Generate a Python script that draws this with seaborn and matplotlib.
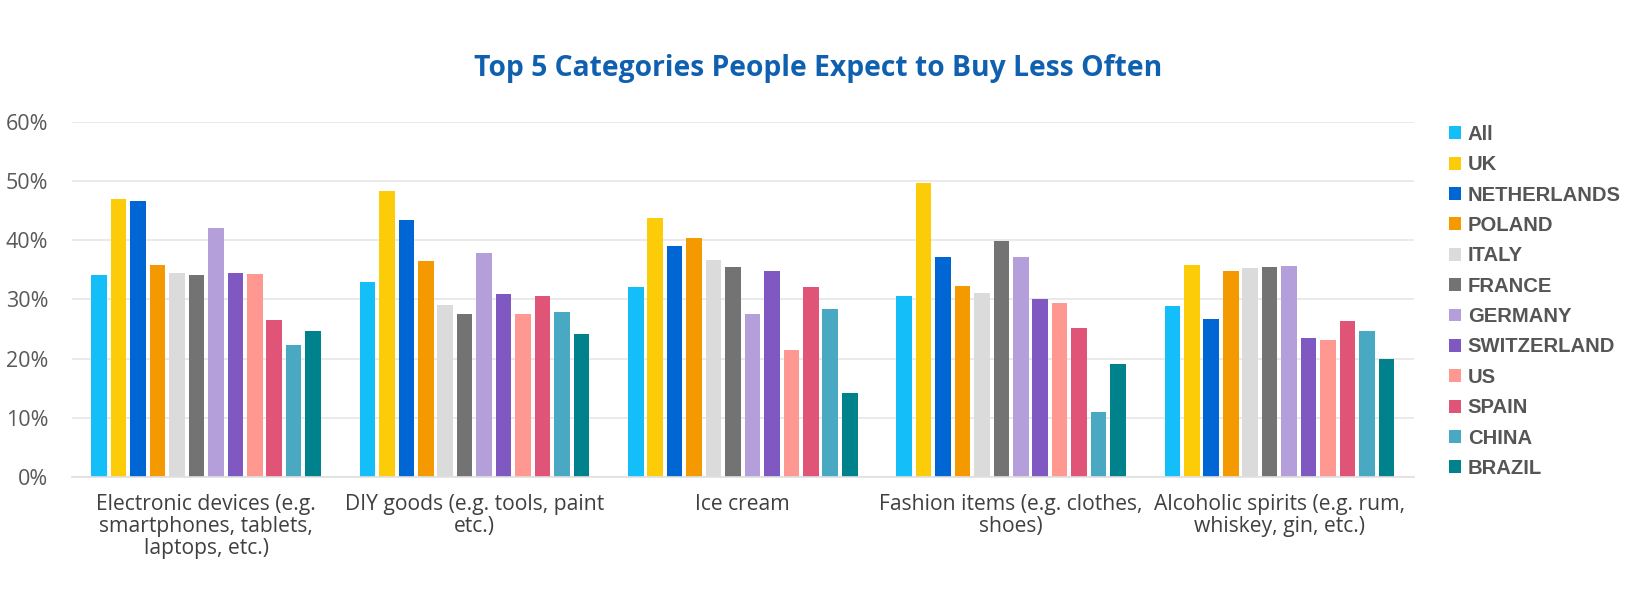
import pandas as pd
import matplotlib.pyplot as plt
import seaborn as sns
from matplotlib.ticker import PercentFormatter

categories = [
    "Electronic devices (e.g.\nsmartphones, tablets,\nlaptops, etc.)",
    "DIY goods (e.g. tools, paint\netc.)",
    "Ice cream",
    "Fashion items (e.g. clothes,\nshoes)",
    "Alcoholic spirits (e.g. rum,\nwhiskey, gin, etc.)",
]
countries = ["All", "UK", "NETHERLANDS", "POLAND", "ITALY", "FRANCE",
             "GERMANY", "SWITZERLAND", "US", "SPAIN", "CHINA", "BRAZIL"]
colors = ["#13BEF9", "#FDCC09", "#0066D4", "#F49A00", "#DBDBDB", "#737373",
          "#B49FDB", "#7F58C1", "#FF9891", "#E05477", "#4AA9C2", "#00828C"]

electronics = [34.1, 47.0, 46.6, 35.8, 34.4, 34.1, 42.0, 34.4, 34.2, 26.5, 22.3, 24.7]
diy_goods = [32.9, 48.3, 43.4, 36.5, 29.1, 27.5, 37.8, 30.9, 27.5, 30.6, 27.9, 24.2]
ice_cream = [32.1, 43.7, 39.0, 40.4, 36.7, 35.5, 27.5, 34.8, 21.5, 32.1, 28.4, 14.1]
fashion = [30.6, 49.6, 37.2, 32.3, 31.1, 39.9, 37.2, 30.1, 29.4, 25.2, 10.9, 19.0]
spirits = [28.9, 35.8, 26.7, 34.8, 35.3, 35.5, 35.6, 23.5, 23.2, 26.4, 24.7, 20.0]

rows = []
for cat, vals in zip(categories, [electronics, diy_goods, ice_cream, fashion, spirits]):
    for country, v in zip(countries, vals):
        rows.append({"Category": cat, "Country": country, "Share": v / 100})
df = pd.DataFrame(rows)

sns.set_theme(style="white")
plt.rcParams["font.family"] = ["Open Sans", "DejaVu Sans"]

fig = plt.figure(figsize=(16.36, 6.13), dpi=100)
ax = fig.add_axes([0.044, 0.222, 0.820, 0.5795])

sns.barplot(data=df, x="Category", y="Share", hue="Country", hue_order=countries,
            palette=colors, width=0.87, gap=0.2, linewidth=0, saturation=1, ax=ax)

ax.set_ylim(0, 0.6)
ax.set_xlim(-0.5, 4.5)
ax.set_yticks([0, 0.1, 0.2, 0.3, 0.4, 0.5, 0.6])
ax.yaxis.set_major_formatter(PercentFormatter(1.0, decimals=0))
ax.grid(axis="y", color="#E6E6E6", linewidth=1.2)
ax.set_axisbelow(True)
for side in ["top", "right", "left"]:
    ax.spines[side].set_visible(False)
ax.spines["bottom"].set_color("#E0E0E0")
ax.spines["bottom"].set_linewidth(1.2)
ax.tick_params(axis="y", labelsize=15.5, colors="#595959", length=0, pad=17)
ax.tick_params(axis="x", labelsize=15.2, colors="#404040", length=0, pad=12)
for lbl in ax.get_xticklabels():
    lbl.set_linespacing(1.08)
ax.set_xlabel("")
ax.set_ylabel("")

handles, labels = ax.get_legend_handles_labels()
ax.legend(handles, labels, loc="upper left", bbox_to_anchor=(1.013, 1.042),
          frameon=False, handlelength=0.6, handleheight=0.6, handletextpad=0.32,
          labelspacing=0.56,
          prop={"family": ["Liberation Sans"], "weight": "bold", "size": 14.6},
          labelcolor="#555555")

fig.text(0.5, 0.889, "Top 5 Categories People Expect to Buy Less Often",
         ha="center", va="center", fontsize=20.3, fontweight="bold", color="#1060B0")

fig.savefig("out.png", dpi=100)
